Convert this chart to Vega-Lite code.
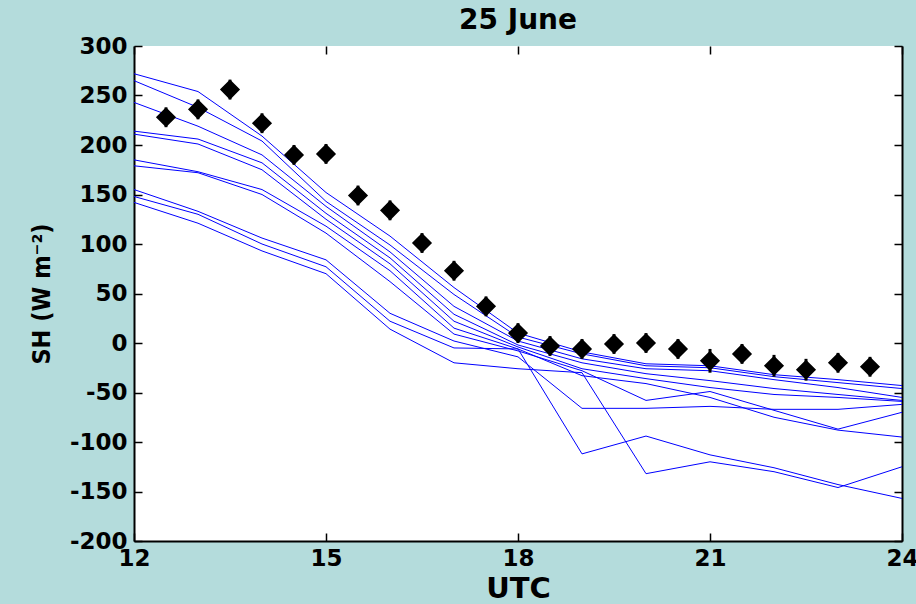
{
  "$schema": "https://vega.github.io/schema/vega-lite/v6.json",
  "width": 768,
  "height": 495,
  "autosize": {"type": "none"},
  "padding": {"left": 134, "top": 46, "right": 14, "bottom": 63},
  "background": "#b4dcdc",
  "title": {
    "text": "25 June",
    "font": "DejaVu Sans",
    "fontSize": 28,
    "fontWeight": "bold",
    "color": "#000000",
    "anchor": "middle",
    "offset": 0
  },
  "config": {
    "view": {"fill": "#ffffff", "stroke": null},
    "axis": {
      "grid": false,
      "domainColor": "#000000",
      "domainWidth": 2,
      "tickColor": "#000000",
      "tickWidth": 1.5,
      "tickSize": -8,
      "labelFont": "DejaVu Sans",
      "labelFontWeight": "bold",
      "labelFontSize": 23,
      "labelColor": "#000000",
      "labelFlush": false,
      "labelOverlap": false,
      "labelBound": false,
      "titleFont": "DejaVu Sans",
      "titleFontWeight": "bold",
      "titleFontSize": 29,
      "titleColor": "#000000"
    }
  },
  "datasets": {
    "runs": [
      {"utc": 12, "r1": 272, "r2": 265, "r3": 243, "r4": 214, "r5": 211, "r6": 185, "r7": 179, "r8": 155, "r9": 148, "r10": 142},
      {"utc": 13, "r1": 254, "r2": 238, "r3": 219, "r4": 206, "r5": 201, "r6": 173, "r7": 172, "r8": 133, "r9": 130, "r10": 121},
      {"utc": 14, "r1": 209, "r2": 204, "r3": 190, "r4": 182, "r5": 175, "r6": 155, "r7": 150, "r8": 106, "r9": 100, "r10": 93},
      {"utc": 15, "r1": 152, "r2": 143, "r3": 138, "r4": 131, "r5": 125, "r6": 118, "r7": 111, "r8": 84, "r9": 77, "r10": 70},
      {"utc": 16, "r1": 108, "r2": 99, "r3": 92, "r4": 86, "r5": 80, "r6": 73, "r7": 62, "r8": 30, "r9": 22, "r10": 14},
      {"utc": 17, "r1": 56, "r2": 49, "r3": 37, "r4": 29, "r5": 22, "r6": 15, "r7": 9, "r8": 2, "r9": -5, "r10": -20},
      {"utc": 18, "r1": 10, "r2": 6, "r3": 2, "r4": -2, "r5": -4, "r6": -6, "r7": -8, "r8": -14, "r9": -6, "r10": -26},
      {"utc": 19, "r1": -9, "r2": -11, "r3": -16, "r4": -20, "r5": -26, "r6": -33, "r7": -28, "r8": -66, "r9": -112, "r10": -30},
      {"utc": 20, "r1": -21, "r2": -23, "r3": -26, "r4": -31, "r5": -36, "r6": -41, "r7": -58, "r8": -66, "r9": -94, "r10": -132},
      {"utc": 21, "r1": -23, "r2": -25, "r3": -28, "r4": -38, "r5": -45, "r6": -55, "r7": -49, "r8": -64, "r9": -113, "r10": -120},
      {"utc": 22, "r1": -32, "r2": -34, "r3": -37, "r4": -46, "r5": -52, "r6": -75, "r7": -68, "r8": -67, "r9": -126, "r10": -130},
      {"utc": 23, "r1": -37, "r2": -40, "r3": -45, "r4": -52, "r5": -55, "r6": -88, "r7": -87, "r8": -67, "r9": -143, "r10": -146},
      {"utc": 24, "r1": -43, "r2": -46, "r3": -55, "r4": -58, "r5": -59, "r6": -95, "r7": -70, "r8": -62, "r9": -157, "r10": -125}
    ],
    "obs": [
      {"utc": 12.5, "sh": 228, "err": 10},
      {"utc": 13.0, "sh": 236, "err": 10},
      {"utc": 13.5, "sh": 256, "err": 10},
      {"utc": 14.0, "sh": 222, "err": 10},
      {"utc": 14.5, "sh": 190, "err": 10},
      {"utc": 15.0, "sh": 191, "err": 10},
      {"utc": 15.5, "sh": 149, "err": 10},
      {"utc": 16.0, "sh": 134, "err": 10},
      {"utc": 16.5, "sh": 101, "err": 10},
      {"utc": 17.0, "sh": 73, "err": 10},
      {"utc": 17.5, "sh": 37, "err": 10},
      {"utc": 18.0, "sh": 10, "err": 10},
      {"utc": 18.5, "sh": -3, "err": 10},
      {"utc": 19.0, "sh": -6, "err": 10},
      {"utc": 19.5, "sh": -1, "err": 10},
      {"utc": 20.0, "sh": 0, "err": 10},
      {"utc": 20.5, "sh": -6, "err": 10},
      {"utc": 21.0, "sh": -18, "err": 12},
      {"utc": 21.5, "sh": -11, "err": 10},
      {"utc": 22.0, "sh": -23, "err": 11},
      {"utc": 22.5, "sh": -27, "err": 11},
      {"utc": 23.0, "sh": -20, "err": 10},
      {"utc": 23.5, "sh": -24, "err": 10}
    ]
  },
  "resolve": {"axis": {"x": "independent", "y": "independent"}},
  "layer": [
    {
      "data": {"name": "runs"},
      "transform": [
        {"fold": ["r1", "r2", "r3", "r4", "r5", "r6", "r7", "r8", "r9", "r10"], "as": ["run", "sh"]}
      ],
      "mark": {"type": "line", "color": "#0000ff", "strokeWidth": 1, "clip": true},
      "encoding": {
        "x": {
          "field": "utc", "type": "quantitative",
          "scale": {"domain": [12, 24], "nice": false, "zero": false},
          "axis": {"orient": "bottom", "values": [12, 15, 18, 21, 24], "title": "UTC", "labelPadding": 14, "titlePadding": 4}
        },
        "y": {
          "field": "sh", "type": "quantitative",
          "scale": {"domain": [-200, 300], "nice": false, "zero": false},
          "axis": {
            "orient": "left",
            "values": [-200, -150, -100, -50, 0, 50, 100, 150, 200, 250, 300],
            "labelExpr": "'' + datum.value",
            "labelPadding": 15,
            "title": "SH (W m⁻²)",
            "titleFont": "DejaVu Sans Condensed",
            "titleFontSize": 25,
            "titlePadding": 15
          }
        },
        "detail": {"field": "run", "type": "nominal"}
      }
    },
    {
      "data": {"name": "obs"},
      "mark": {"type": "errorbar", "ticks": false, "rule": {"strokeWidth": 3, "color": "#000000"}},
      "encoding": {
        "x": {"field": "utc", "type": "quantitative", "axis": null},
        "y": {"field": "sh", "type": "quantitative", "axis": null},
        "yError": {"field": "err"}
      }
    },
    {
      "data": {"name": "obs"},
      "mark": {"type": "point", "shape": "diamond", "filled": true, "size": 300, "color": "#000000", "stroke": "#000000", "strokeWidth": 2, "opacity": 1},
      "encoding": {
        "x": {
          "field": "utc", "type": "quantitative",
          "axis": {"orient": "top", "values": [12, 15, 18, 21, 24], "labels": false, "title": null, "domain": false}
        },
        "y": {
          "field": "sh", "type": "quantitative",
          "axis": {"orient": "right", "values": [-200, -150, -100, -50, 0, 50, 100, 150, 200, 250, 300], "labels": false, "title": null}
        }
      }
    }
  ]
}
